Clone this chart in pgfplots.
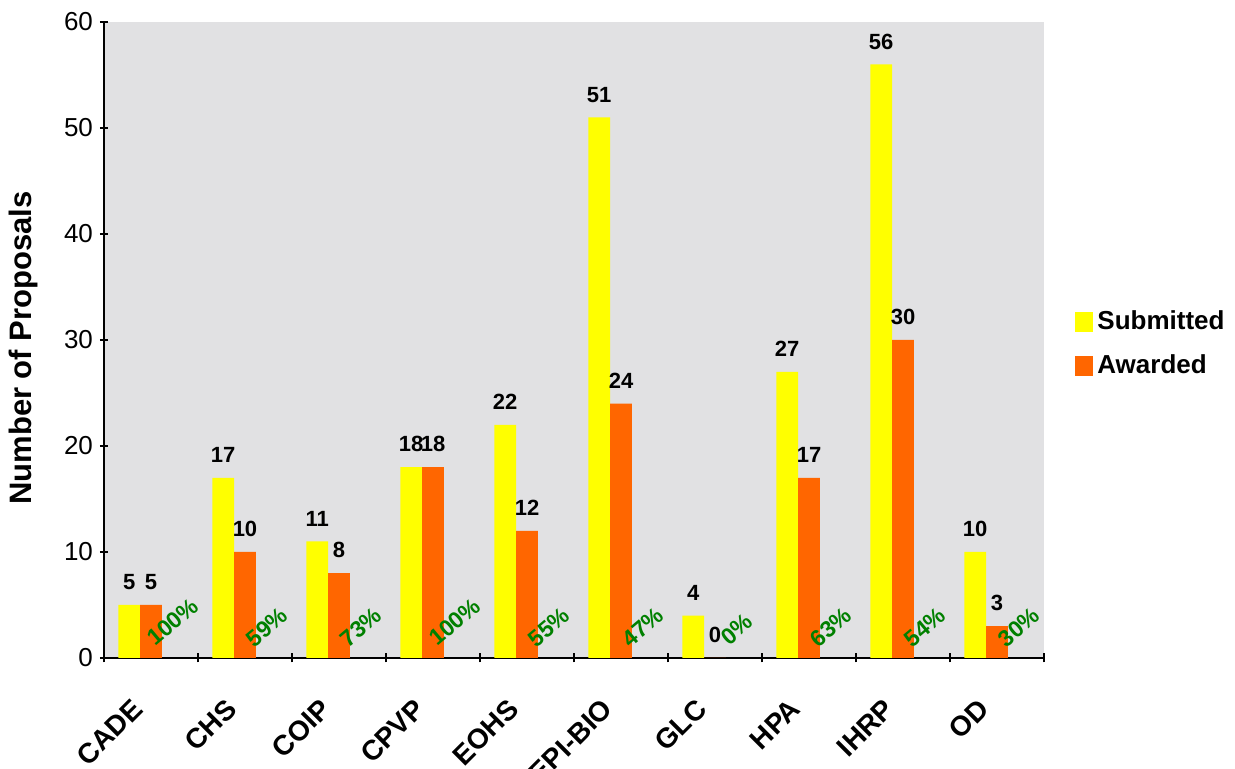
\documentclass[border=0pt]{standalone}
\usepackage{pgfplots}
\pgfplotsset{compat=1.18}
\usepackage{fontspec}
\setmainfont{Liberation Sans}
\definecolor{subm}{RGB}{255,255,0}
\definecolor{awrd}{RGB}{255,102,0}
\definecolor{pctgreen}{RGB}{0,128,0}
\definecolor{marble}{RGB}{225,225,227}
\begin{document}
\begin{tikzpicture}
\begin{axis}[
  name=ax,
  scale only axis,
  width=470pt, height=318pt,
  xmin=-0.5, xmax=9.5,
  ymin=0, ymax=60,
  ytick={0,10,...,60},
  xtick={0,...,9},
  xticklabels={CADE,CHS,COIP,CPVP,EOHS,EPI-BIO,GLC,HPA,IHRP,OD},
  minor xtick={-0.5,0.5,...,9.5},
  major x tick style={draw=none},
  minor tick length=4.5pt,
  major tick length=4pt,
  tick align=outside,
  axis lines=left,
  axis line style={-, line width=0.9pt, black},
  tick style={line width=0.9pt, black},
  axis background/.style={fill=marble},
  /pgf/number format/assume math mode=true,
  yticklabel style={font=\fontsize{13}{15}\selectfont},
  xticklabel style={font=\bfseries\fontsize{14}{16}\selectfont, rotate=45, anchor=north east, inner sep=0pt, xshift=-19.5pt, yshift=-5pt},
  ylabel={Number of Proposals},
  ylabel shift=6pt,
  ylabel style={font=\bfseries\fontsize{15.5}{17}\selectfont, xshift=-4pt},
  legend style={at={(1.033,0.494)}, anchor=west, draw=none, fill=none, inner sep=0pt,
    font=\bfseries\fontsize{13}{15}\selectfont, row sep=7pt, cells={anchor=west}},
  clip=false,
]
\addplot[ybar, bar width=0.232, bar shift=0pt, fill=subm, draw=none,
  nodes near coords, nodes near coords style={font=\bfseries\fontsize{11}{13}\selectfont, yshift=4pt},
  legend image code/.code={\fill[subm] (0pt,-5pt) rectangle (9pt,5pt);}]
  coordinates {(-0.232,5) (0.768,17) (1.768,11) (2.768,18) (3.768,22) (4.768,51) (5.768,4) (6.768,27) (7.768,56) (8.768,10)};
\addlegendentry{Submitted}
\addplot[ybar, bar width=0.232, bar shift=0pt, fill=awrd, draw=none,
  nodes near coords, nodes near coords style={font=\bfseries\fontsize{11}{13}\selectfont, yshift=4pt},
  legend image code/.code={\fill[awrd] (0pt,-5pt) rectangle (9pt,5pt);}]
  coordinates {(0,5) (1,10) (2,8) (3,18) (4,12) (5,24) (6,0) (7,17) (8,30) (9,3)};
\addlegendentry{Awarded}
\addplot[forget plot, draw=none, mark=none,
  nodes near coords, point meta=explicit symbolic,
  nodes near coords style={rotate=40, anchor=center, text=pctgreen, font=\bfseries\fontsize{11.5}{13}\selectfont}]
  coordinates {(0.232,3.4) [100\%] (1.232,2.9) [59\%] (2.232,2.9) [73\%] (3.232,3.4) [100\%]
    (4.232,2.9) [55\%] (5.232,2.9) [47\%] (6.232,2.7) [0\%] (7.232,2.9) [63\%]
    (8.232,2.9) [54\%] (9.232,2.9) [30\%]};
\end{axis}
\pgfresetboundingbox
\path ([shift={(-52pt,-55.5pt)}]ax.south west) rectangle ([shift={(565.5pt,329pt)}]ax.south west);
\end{tikzpicture}
\end{document}
